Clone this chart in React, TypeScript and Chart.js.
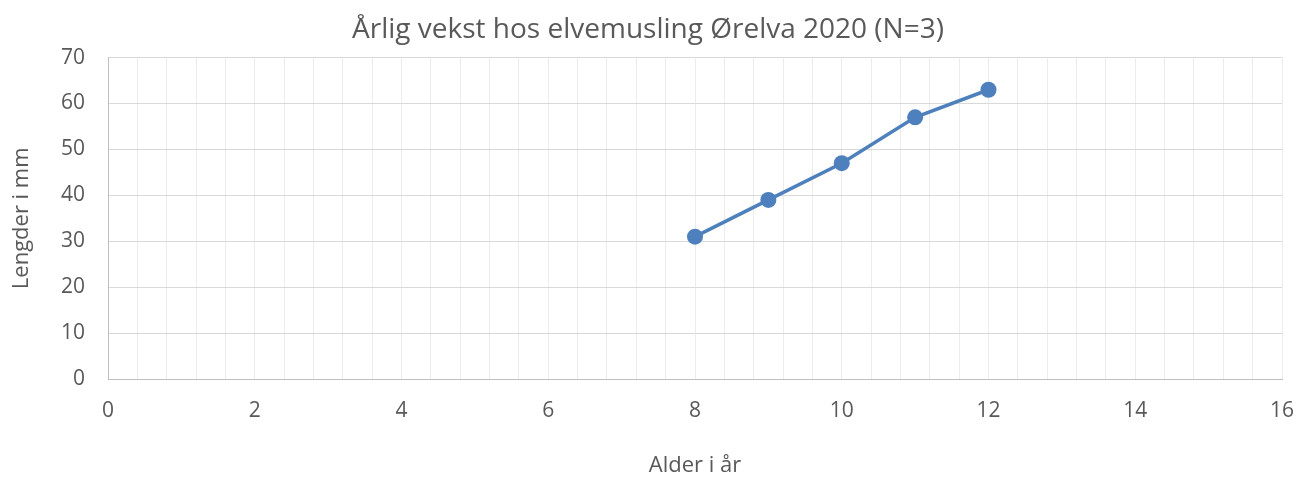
import React, { useEffect, useRef } from "react";
import { Chart, registerables } from "chart.js";

Chart.register(...registerables);

const ages = [8, 9, 10, 11, 12];
const lengths = [31, 39, 47, 57, 63];
const chartTitle = "Årlig vekst hos elvemusling Ørelva 2020 (N=3)";
const xTitle = "Alder i år";
const yTitle = "Lengder i mm";

export default function App() {
  const ref = useRef<HTMLCanvasElement | null>(null);
  useEffect(() => {
    document.body.style.margin = "0";
    if (!ref.current) return;
    const font = "'Open Sans', sans-serif";
    const chart = new Chart(ref.current, {
      type: "line",
      data: {
        datasets: [
          {
            data: ages.map((a, i) => ({ x: a, y: lengths[i] })),
            borderColor: "#4e80bd",
            backgroundColor: "#4e80bd",
            borderWidth: 3.5,
            pointRadius: 8,
            pointHoverRadius: 8,
            pointBorderWidth: 0,
            tension: 0,
          },
        ],
      },
      options: {
        animation: false,
        responsive: false,
        maintainAspectRatio: false,
        layout: { padding: { left: 0, right: 0, top: 0, bottom: 0 } },
        plugins: {
          legend: { display: false },
          tooltip: { enabled: false },
          title: {
            display: true,
            text: chartTitle,
            color: "#595959",
            font: { family: font, size: 28, weight: "normal" },
            padding: { top: 13, bottom: 11 },
          },
        },
        scales: {
          x: {
            type: "linear",
            min: 0,
            max: 16,
            afterFit: (s: any) => {
              s.height = 98;
              s.paddingRight = 14;
              s.paddingLeft = 0;
            },
            ticks: {
              stepSize: 0.4,
              autoSkip: false,
              maxRotation: 0,
              color: "#595959",
              padding: 19,
              font: { family: font, size: 21 },
              callback: (v: any) => {
                const n = Number(v);
                const r = Math.round(n / 2) * 2;
                return Math.abs(n - r) < 1e-6 ? String(r) : "";
              },
            },
            grid: { color: "#ececec", lineWidth: 1, drawTicks: false },
            border: { color: "#bfbfbf", width: 1 },
            title: {
              display: true,
              text: xTitle,
              color: "#595959",
              font: { family: font, size: 22 },
              padding: { top: 0, bottom: -2 },
            },
          },
          y: {
            min: 0,
            max: 70,
            afterFit: (s: any) => {
              s.width = 108;
            },
            ticks: {
              stepSize: 10,
              color: "#595959",
              padding: 23,
              font: { family: font, size: 21 },
            },
            grid: { color: "#d9d9d9", lineWidth: 1, drawTicks: false },
            border: { color: "#bfbfbf", width: 1 },
            title: {
              display: true,
              text: yTitle,
              color: "#595959",
              font: { family: font, size: 22 },
              padding: { top: 9, bottom: 0 },
            },
          },
        },
      },
    });
    return () => chart.destroy();
  }, []);
  return (
    <div style={{ width: 1296, height: 477, background: "#fff" }}>
      <canvas ref={ref} width={1296} height={477} />
    </div>
  );
}
